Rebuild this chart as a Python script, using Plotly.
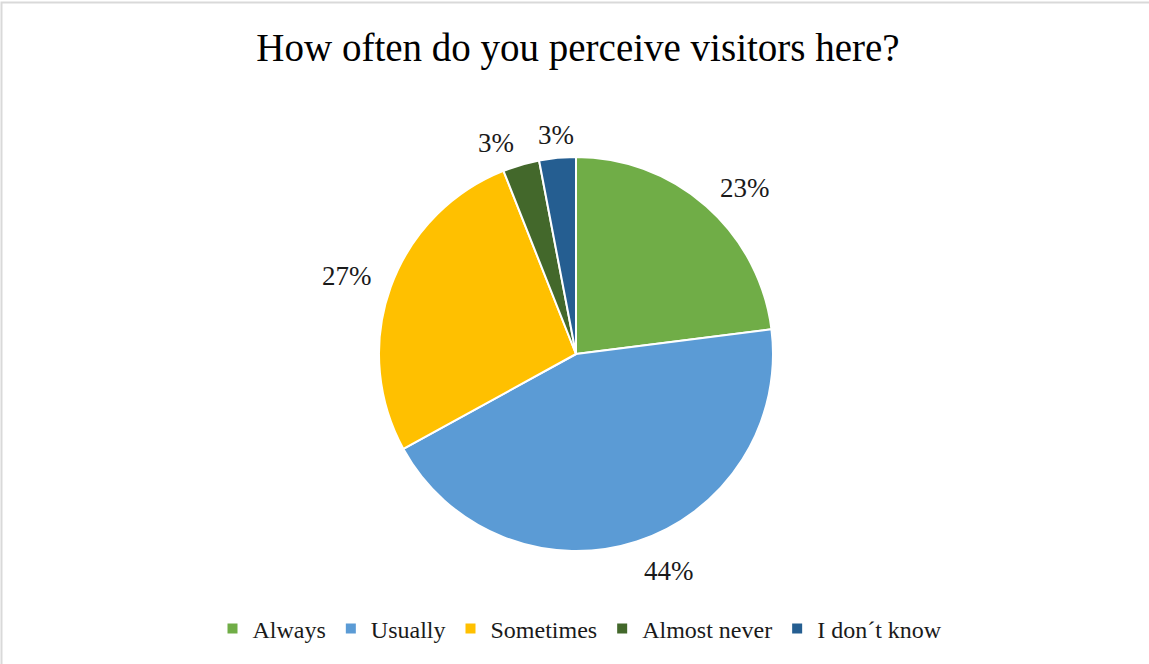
import math
import plotly.graph_objects as go

categories = ["Always", "Usually", "Sometimes", "Almost never", "I don´t know"]
values = [23, 44, 27, 3, 3]
colors = ["#70AD47", "#5B9BD5", "#FFC000", "#43682B", "#255E91"]
title_text = "How often do you perceive visitors here?"

W, H = 1149, 664
cx, cy, r = 576, 354, 197
label_gap = 18
digit_h = 18
baseline_fix = 4
font_family = "Liberation Serif"

fig = go.Figure(go.Pie(
    labels=categories,
    values=values,
    sort=False,
    direction="clockwise",
    rotation=0,
    marker=dict(colors=colors, line=dict(color="white", width=2)),
    textinfo="none",
    domain=dict(x=[(cx - r) / W, (cx + r) / W], y=[1 - (cy + r) / H, 1 - (cy - r) / H]),
    hoverinfo="label+percent",
))

# percentage labels placed outside each slice at its mid-angle
total = sum(values)
annotations = []
cum = 0
for v in values:
    mid = (cum + v / 2) / total * 2 * math.pi
    cum += v
    s, c = math.sin(mid), math.cos(mid)
    px = cx + (r + label_gap) * s
    py = cy - (r + label_gap) * c
    if abs(s) < 0.2:
        xa = "center"
    elif s > 0:
        xa = "left"
    else:
        xa = "right"
    if abs(c) < 0.2:
        dy = 0
    else:
        dy = -digit_h / 2 if c > 0 else digit_h / 2
    annotations.append(dict(
        x=px / W, y=1 - (py + dy + baseline_fix) / H, xref="paper", yref="paper",
        text=f"{round(v / total * 100)}%", showarrow=False,
        xanchor=xa, yanchor="middle",
        font=dict(family=font_family, size=27, color="#1a1a1a"),
    ))

fig.update_layout(
    width=W, height=H,
    margin=dict(l=0, r=0, t=0, b=0),
    paper_bgcolor="white",
    title=dict(text=title_text, x=578 / W, xanchor="center", y=1 - 47 / H, yanchor="middle",
               font=dict(family=font_family, size=39, color="#000000")),
    legend=dict(orientation="h", x=580 / W, xanchor="center", y=1 - 629 / H, yanchor="middle",
                font=dict(family=font_family, size=24, color="#1a1a1a"),
                itemwidth=30, traceorder="normal"),
    showlegend=True,
    annotations=annotations,
    shapes=[dict(type="rect", xref="paper", yref="paper", x0=1.5 / W, x1=1.2, y0=-0.2, y1=1 - 2.5 / H,
                 line=dict(color="#D9D9D9", width=2), fillcolor="rgba(0,0,0,0)", layer="above")],
)

fig.write_html("out.html")
